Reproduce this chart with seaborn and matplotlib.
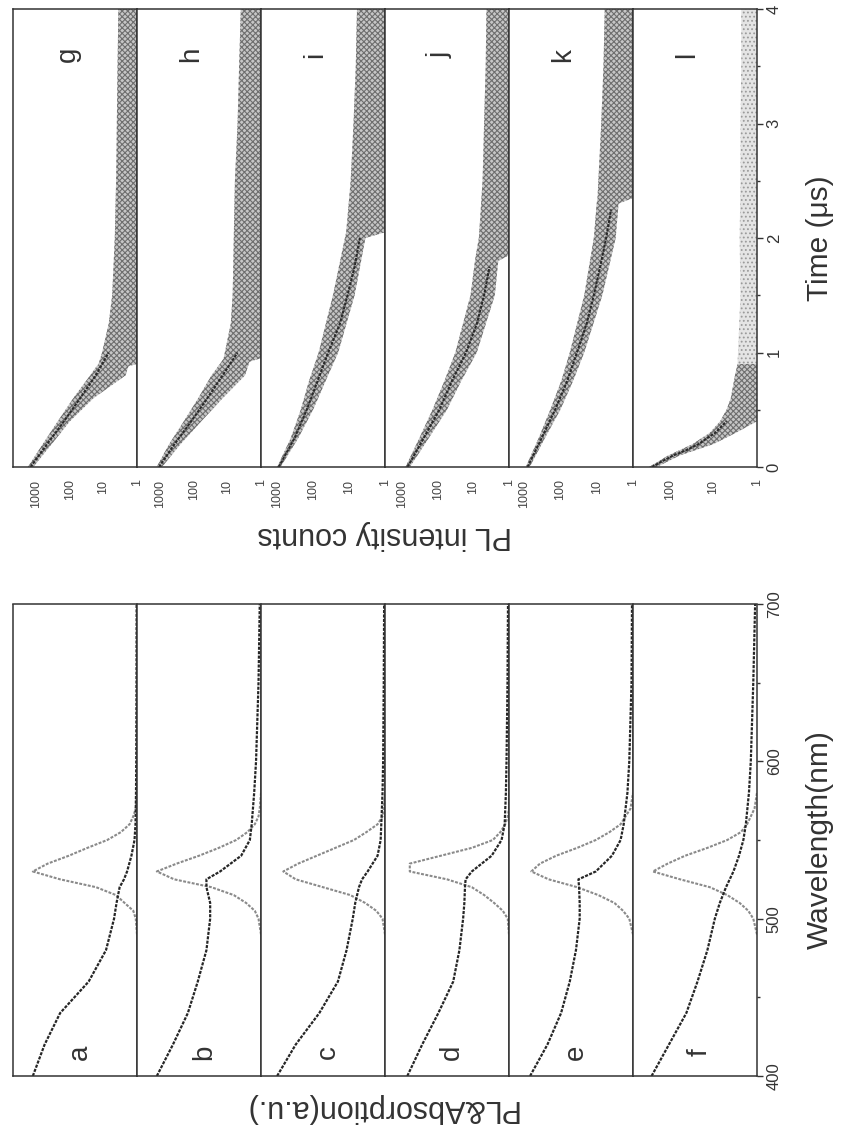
#!/usr/bin/env python3

# PL / absorption spectra (a-f) and PL decay traces (g-l), page rotated like the scan

import matplotlib
matplotlib.use("Agg")
import matplotlib.pyplot as plt
import seaborn as sns
import pandas as pd
from matplotlib.ticker import MultipleLocator, NullLocator

sns.set_style("white")
plt.rcParams["font.family"] = ["Liberation Sans", "DejaVu Sans"]
plt.rcParams["hatch.linewidth"] = 0.8

# ---- spectra: absorption (dark) and PL (grey), normalised ----
wl_abs = [400, 420, 440, 460, 480, 500, 510, 520, 525, 530, 540, 550, 560, 580, 600, 650, 700]
abs_a = [0.84, 0.745, 0.62, 0.39, 0.25, 0.185, 0.165, 0.14, 0.105, 0.08, 0.045, 0.02, 0.012, 0.008, 0.006, 0.004, 0.003]
abs_b = [0.84, 0.71, 0.59, 0.51, 0.44, 0.41, 0.41, 0.44, 0.44, 0.33, 0.16, 0.09, 0.075, 0.055, 0.04, 0.02, 0.01]
abs_c = [0.87, 0.72, 0.53, 0.38, 0.31, 0.26, 0.24, 0.21, 0.185, 0.14, 0.06, 0.035, 0.03, 0.02, 0.015, 0.01, 0.007]
abs_d = [0.82, 0.70, 0.57, 0.45, 0.40, 0.37, 0.36, 0.355, 0.35, 0.30, 0.14, 0.06, 0.035, 0.025, 0.02, 0.012, 0.008]
abs_e = [0.83, 0.69, 0.58, 0.51, 0.46, 0.43, 0.43, 0.435, 0.44, 0.30, 0.17, 0.10, 0.075, 0.045, 0.03, 0.012, 0.008]
abs_f = [0.85, 0.71, 0.57, 0.48, 0.40, 0.34, 0.30, 0.25, 0.22, 0.19, 0.145, 0.11, 0.09, 0.065, 0.05, 0.03, 0.015]

wl_pl = [490, 500, 505, 510, 515, 520, 525, 530, 535, 540, 545, 550, 555, 560, 565, 570, 580]
pl_a = [0.0, 0.01, 0.03, 0.10, 0.17, 0.33, 0.62, 0.84, 0.72, 0.55, 0.40, 0.24, 0.13, 0.06, 0.03, 0.01, 0.0]
pl_b = [0.0, 0.02, 0.05, 0.12, 0.22, 0.40, 0.70, 0.84, 0.68, 0.50, 0.34, 0.20, 0.11, 0.05, 0.02, 0.01, 0.0]
pl_c = [0.0, 0.02, 0.07, 0.16, 0.28, 0.50, 0.72, 0.82, 0.70, 0.55, 0.40, 0.25, 0.15, 0.06, 0.02, 0.01, 0.0]
pl_d = [0.0, 0.01, 0.05, 0.12, 0.20, 0.30, 0.50, 0.80, 0.80, 0.55, 0.30, 0.13, 0.07, 0.03, 0.01, 0.0, 0.0]
pl_e = [0.0, 0.03, 0.08, 0.15, 0.28, 0.45, 0.68, 0.82, 0.75, 0.62, 0.45, 0.30, 0.19, 0.10, 0.06, 0.02, 0.0]
pl_f = [0.0, 0.03, 0.07, 0.14, 0.24, 0.38, 0.62, 0.84, 0.72, 0.58, 0.40, 0.24, 0.13, 0.08, 0.05, 0.02, 0.0]

spec_letters = ["a", "b", "c", "d", "e", "f"]
spec_abs = [abs_a, abs_b, abs_c, abs_d, abs_e, abs_f]
spec_pl = [pl_a, pl_b, pl_c, pl_d, pl_e, pl_f]
wl_ticks = [400, 500, 600, 700]

# ---- decays: fitted line + scatter band (counts vs time in us) ----
fit_t_g = [0.0, 0.2, 0.4, 0.6, 0.8, 1.0]
fit_g = [1500, 480, 150, 50, 17, 7]
band_t_g = [0.0, 0.2, 0.4, 0.6, 0.8, 0.88, 0.9, 1.0, 1.25, 1.5, 2.0, 2.5, 3.0, 3.5, 4.0]
band_hi_g = [1800, 650, 230, 80, 25, 16, 14, 11, 7, 5.5, 4.6, 4.2, 4.0, 3.8, 3.6]
band_lo_g = [1250, 350, 100, 20, 2.2, 1.8, 1, 1, 1, 1, 1, 1, 1, 1, 1]

fit_t_h = [0.0, 0.2, 0.4, 0.6, 0.8, 1.0]
fit_h = [1100, 380, 120, 40, 14, 5]
band_t_h = [0.0, 0.2, 0.4, 0.6, 0.8, 0.92, 0.95, 1.25, 1.5, 2.0, 2.5, 3.0, 3.5, 4.0]
band_hi_h = [1300, 550, 200, 75, 30, 15, 13, 8, 7, 6.5, 6, 5, 4.5, 4]
band_lo_h = [900, 250, 60, 14, 3, 2.2, 1, 1, 1, 1, 1, 1, 1, 1]

fit_t_i = [0.0, 0.25, 0.5, 0.75, 1.0, 1.25, 1.5, 1.75, 2.0]
fit_i = [900, 330, 150, 75, 38, 18, 11, 7, 5]
band_t_i = [0.0, 0.25, 0.5, 0.75, 1.0, 1.5, 2.0, 2.05, 2.5, 3.0, 3.5, 4.0]
band_hi_i = [1000, 420, 220, 130, 70, 28, 13, 12, 9, 7.5, 6.5, 6]
band_lo_i = [800, 260, 100, 45, 20, 7, 3.5, 1, 1, 1, 1, 1]

fit_t_j = [0.0, 0.25, 0.5, 0.75, 1.0, 1.25, 1.5, 1.75]
fit_j = [700, 250, 90, 40, 16, 8, 5, 3.5]
band_t_j = [0.0, 0.25, 0.5, 0.75, 1.0, 1.5, 1.8, 1.85, 2.0, 2.5, 3.0, 3.5, 4.0]
band_hi_j = [800, 330, 140, 65, 32, 12, 9, 8.5, 7, 5.5, 5, 4.5, 4.3]
band_lo_j = [600, 180, 55, 22, 8, 2.5, 2, 1, 1, 1, 1, 1, 1]

fit_t_k = [0.0, 0.25, 0.5, 0.75, 1.0, 1.25, 1.5, 1.75, 2.0, 2.25]
fit_k = [800, 330, 140, 65, 35, 19, 12, 8, 5.5, 4]
band_t_k = [0.0, 0.25, 0.5, 0.75, 1.0, 1.5, 2.0, 2.3, 2.35, 2.5, 3.0, 3.5, 4.0]
band_hi_k = [900, 400, 190, 95, 55, 22, 12, 10, 9.5, 9, 7.5, 6.5, 6]
band_lo_k = [700, 270, 100, 45, 22, 7, 3, 2.5, 1, 1, 1, 1, 1]

fit_t_l = [0.0, 0.05, 0.1, 0.15, 0.2, 0.3, 0.4]
fit_l = [260, 150, 84, 40, 22, 9, 5]
band_t_l = [0.0, 0.1, 0.2, 0.3, 0.4, 0.5, 0.6, 0.8, 0.9]
band_hi_l = [300, 110, 30, 12, 7, 5, 4, 3.2, 2.8]
band_lo_l = [200, 60, 10, 3, 1, 1, 1, 1, 1]
# sparse, lighter tail of panel l beyond ~0.9 us
tail_t_l = [0.9, 1.5, 2.0, 2.5, 3.0, 3.5, 4.0]
tail_hi_l = [2.8, 2.4, 2.5, 2.4, 2.4, 2.3, 2.3]

decay_letters = ["g", "h", "i", "j", "k", "l"]
decay_fit_t = [fit_t_g, fit_t_h, fit_t_i, fit_t_j, fit_t_k, fit_t_l]
decay_fit = [fit_g, fit_h, fit_i, fit_j, fit_k, fit_l]
decay_band_t = [band_t_g, band_t_h, band_t_i, band_t_j, band_t_k, band_t_l]
decay_band_hi = [band_hi_g, band_hi_h, band_hi_i, band_hi_j, band_hi_k, band_hi_l]
decay_band_lo = [band_lo_g, band_lo_h, band_lo_i, band_lo_j, band_lo_k, band_lo_l]
decay_top = [5000, 5000, 2800, 3000, 2600, 700]
decay_ticks = [[1, 10, 100, 1000]] * 5 + [[1, 10, 100]]
time_ticks = [0, 1, 2, 3, 4]

W, H = 841, 1133
INK = "#333333"


def px_axes(fig, x0, y0, x1, y1):
    # pixel box (top-left origin) -> figure fraction
    return fig.add_axes([x0 / W, 1 - y1 / H, (x1 - x0) / W, (y1 - y0) / H])


def frame(ax):
    for s in ax.spines.values():
        s.set_visible(True)
        s.set_color(INK)
        s.set_linewidth(1.1)
        s.set_linestyle((0, (1.6, 1.0)))


def main():
    fig = plt.figure(figsize=(W / 100, H / 100), dpi=100)

    # spectra block (lower half of page)
    for i in range(6):
        ax = px_axes(fig, 13 + 124 * i, 604, 137 + 124 * i, 1076)
        df_abs = pd.DataFrame({"I": spec_abs[i], "wl": wl_abs})
        df_pl = pd.DataFrame({"I": spec_pl[i], "wl": wl_pl})
        sns.lineplot(data=df_pl, x="I", y="wl", orient="y", estimator=None,
                     color="#8a8a8a", lw=1.5, ls=(0, (1.4, 0.7)), ax=ax)
        sns.lineplot(data=df_abs, x="I", y="wl", orient="y", estimator=None,
                     color="#262626", lw=1.6, ls=(0, (1.4, 0.6)), ax=ax)
        ax.set_xlim(1.0, 0.0)
        ax.set_ylim(400, 700)
        ax.set_xticks([])
        ax.set_xlabel("")
        ax.set_ylabel("")
        frame(ax)
        ax.text(0.54, 0.05, spec_letters[i], transform=ax.transAxes, rotation=90,
                ha="center", va="center", fontsize=20, color=INK)
        if i == 5:
            ax.yaxis.tick_right()
            ax.set_yticks(wl_ticks)
            ax.set_yticklabels([str(v) for v in wl_ticks], rotation=90, va="center")
            ax.yaxis.set_minor_locator(MultipleLocator(50))
            ax.tick_params(axis="y", which="major", direction="out", length=4,
                           width=1, color=INK, labelsize=12, labelcolor=INK, pad=3)
            ax.tick_params(axis="y", which="minor", direction="out", length=2.5,
                           width=1, color=INK)
        else:
            ax.set_yticks([])

    # decay block (upper half of page)
    for i in range(6):
        ax = px_axes(fig, 13 + 124 * i, 9, 137 + 124 * i, 467)
        ax.set_xscale("log")
        ax.fill_betweenx(decay_band_t[i], decay_band_lo[i], decay_band_hi[i],
                         facecolor="#c6c6c6", edgecolor="#6e6e6e", hatch="xxxxxx", lw=0)
        if i == 5:
            ax.fill_betweenx(tail_t_l, 1, tail_hi_l, facecolor="#e4e4e4",
                             edgecolor="#9a9a9a", hatch="....", lw=0)
        df_fit = pd.DataFrame({"counts": decay_fit[i], "t": decay_fit_t[i]})
        sns.lineplot(data=df_fit, x="counts", y="t", orient="y", estimator=None,
                     color="#2a2a2a", lw=1.5, ls=(0, (1.4, 0.6)), ax=ax)
        ax.set_xlim(decay_top[i], 1)
        ax.set_ylim(0, 4)
        ax.set_xlabel("")
        ax.set_ylabel("")
        ax.set_xticks(decay_ticks[i])
        ax.set_xticklabels([str(v) for v in decay_ticks[i]], rotation=90, ha="center")
        ax.xaxis.set_minor_locator(NullLocator())
        ax.tick_params(axis="x", which="major", direction="out", length=4, width=1,
                       color=INK, labelsize=9, labelcolor="#444444", pad=5)
        frame(ax)
        ax.text(0.44, 0.9, decay_letters[i], transform=ax.transAxes, rotation=90,
                ha="center", va="center", fontsize=20, color=INK)
        if i == 5:
            ax.yaxis.tick_right()
            ax.set_yticks(time_ticks)
            ax.set_yticklabels([str(v) for v in time_ticks], rotation=90, va="center")
            ax.yaxis.set_minor_locator(MultipleLocator(0.5))
            ax.tick_params(axis="y", which="major", direction="out", length=4,
                           width=1, color=INK, labelsize=12, labelcolor=INK, pad=3)
            ax.tick_params(axis="y", which="minor", direction="out", length=2.5,
                           width=1, color=INK)
        else:
            ax.set_yticks([])

    fig.text(820 / W, 1 - 840 / H, "Wavelength(nm)", rotation=90, ha="center",
             va="center", fontsize=21.5, color=INK)
    fig.text(820 / W, 1 - 238 / H, "Time (μs)", rotation=90, ha="center",
             va="center", fontsize=21.5, color=INK)
    fig.text(385 / W, 1 - 535 / H, "PL intensity counts", rotation=180, ha="center",
             va="center", fontsize=22, color=INK)
    fig.text(380 / W, 1 - 1108 / H, "PL&Absorption(a.u.)", rotation=180, ha="center",
             va="center", fontsize=22, color=INK)

    fig.savefig("out.png", dpi=100)


if __name__ == "__main__":
    main()
